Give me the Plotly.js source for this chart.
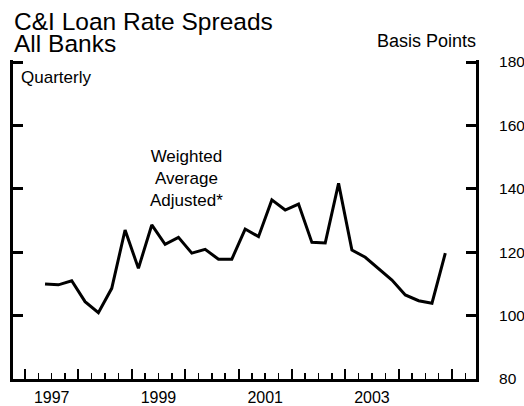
<!DOCTYPE html>
<html>
<head>
<meta charset="utf-8">
<script src="https://cdn.plot.ly/plotly-3.0.1.min.js"></script>
<style>
  html, body { margin: 0; padding: 0; background: #ffffff; }
  #chart { width: 524px; height: 406px; }
</style>
</head>
<body>
<div id="chart"></div>
<script>
// ---- Data ----
const quarters = [
  "1997Q2","1997Q3","1997Q4","1998Q1","1998Q2","1998Q3","1998Q4",
  "1999Q1","1999Q2","1999Q3","1999Q4","2000Q1","2000Q2","2000Q3","2000Q4",
  "2001Q1","2001Q2","2001Q3","2001Q4","2002Q1","2002Q2","2002Q3","2002Q4",
  "2003Q1","2003Q2","2003Q3","2003Q4","2004Q1","2004Q2","2004Q3","2004Q4"
];
const spreads = [
  110.0, 109.7, 111.0, 104.4, 100.9, 108.6, 127.0,
  114.9, 128.6, 122.5, 124.7, 119.7, 120.9, 117.8, 117.8,
  127.3, 124.9, 136.5, 133.3, 135.2, 123.1, 122.9, 141.7,
  120.7, 118.4, 114.9, 111.2, 106.5, 104.7, 103.9, 119.7
];
const yTickVals = [80, 100, 120, 140, 160, 180];
const yearLabelVals = [1997.5, 1999.5, 2001.5, 2003.5];
const yearLabels = ["1997", "1999", "2001", "2003"];

// quarter label -> decimal year at middle of the quarter
function quarterToX(q) {
  const y = parseInt(q.slice(0, 4), 10);
  const n = parseInt(q.slice(5), 10);
  return y + (n - 0.5) / 4;
}
const xVals = quarters.map(quarterToX);

const FONT = "Liberation Sans, Arial, Helvetica, sans-serif";
const xRange = [1996.775, 2005.45];
const yRange = [80, 180.63];

const traces = [{
  type: "scatter",
  mode: "lines",
  x: xVals,
  y: spreads,
  line: { color: "#000000", width: 3 },
  hoverinfo: "skip",
  showlegend: false
}, {
  type: "scatter", mode: "lines", x: [], y: [], xaxis: "x2", yaxis: "y2",
  hoverinfo: "skip", showlegend: false
}];

const layout = {
  width: 524,
  height: 406,
  margin: { l: 13, r: 48, t: 60, b: 27, pad: 0 },
  paper_bgcolor: "#ffffff",
  plot_bgcolor: "#ffffff",
  font: { family: FONT, color: "#000000", size: 15 },
  showlegend: false,
  xaxis: {
    type: "linear",
    range: xRange,
    showgrid: false,
    zeroline: false,
    showline: true,
    linecolor: "#000000",
    linewidth: 3,
    ticks: "inside",
    tick0: 1997,
    dtick: 1,
    ticklen: 10,
    tickwidth: 2,
    tickcolor: "#000000",
    showticklabels: false,
    minor: {
      ticks: "inside",
      tick0: 1997,
      dtick: 0.25,
      ticklen: 6,
      tickwidth: 1.5,
      tickcolor: "#000000",
      showgrid: false
    },
    fixedrange: true
  },
  xaxis2: {
    type: "linear",
    overlaying: "x",
    anchor: "y",
    side: "bottom",
    range: xRange,
    showgrid: false,
    zeroline: false,
    showline: false,
    ticks: "",
    tickmode: "array",
    tickvals: yearLabelVals,
    ticktext: yearLabels,
    tickfont: { family: FONT, size: 16, color: "#000000" },
    ticklabelstandoff: 7,
    fixedrange: true
  },
  yaxis: {
    range: yRange,
    side: "right",
    showgrid: false,
    zeroline: false,
    showline: true,
    linecolor: "#000000",
    linewidth: 3,
    ticks: "inside",
    ticklen: 10,
    tickwidth: 3,
    tickcolor: "#000000",
    tickmode: "array",
    tickvals: yTickVals,
    tickfont: { family: FONT, size: 15.5, color: "#000000" },
    ticklabelstandoff: 17,
    fixedrange: true
  },
  yaxis2: {
    overlaying: "y",
    anchor: "x",
    side: "left",
    range: yRange,
    showgrid: false,
    zeroline: false,
    showline: true,
    linecolor: "#000000",
    linewidth: 3,
    ticks: "inside",
    ticklen: 10,
    tickwidth: 3,
    tickcolor: "#000000",
    tickmode: "array",
    tickvals: yTickVals,
    showticklabels: false,
    fixedrange: true
  },
  annotations: [
    { text: "C&I Loan Rate Spreads", xref: "paper", yref: "paper",
      x: -0.002, y: 1.12, xanchor: "left", yanchor: "middle", showarrow: false,
      font: { family: FONT, size: 24.5, color: "#000000" } },
    { text: "All Banks", xref: "paper", yref: "paper",
      x: -0.002, y: 1.052, xanchor: "left", yanchor: "middle", showarrow: false,
      font: { family: FONT, size: 24.5, color: "#000000" } },
    { text: "Basis Points", xref: "paper", yref: "paper",
      x: 1.004, y: 1.059, xanchor: "right", yanchor: "middle", showarrow: false,
      font: { family: FONT, size: 18, color: "#000000" } },
    { text: "Quarterly", xref: "paper", yref: "paper",
      x: 0.012, y: 0.944, xanchor: "left", yanchor: "middle", showarrow: false,
      font: { family: FONT, size: 17, color: "#000000" } },
    { text: "Weighted<br>Average<br>Adjusted*", xref: "paper", yref: "paper",
      x: 0.3737, y: 0.627, xanchor: "center", yanchor: "middle", showarrow: false,
      align: "center",
      font: { family: FONT, size: 17, color: "#000000" } }
  ]
};

Plotly.newPlot("chart", traces, layout, { staticPlot: true, displayModeBar: false });
</script>
</body>
</html>
